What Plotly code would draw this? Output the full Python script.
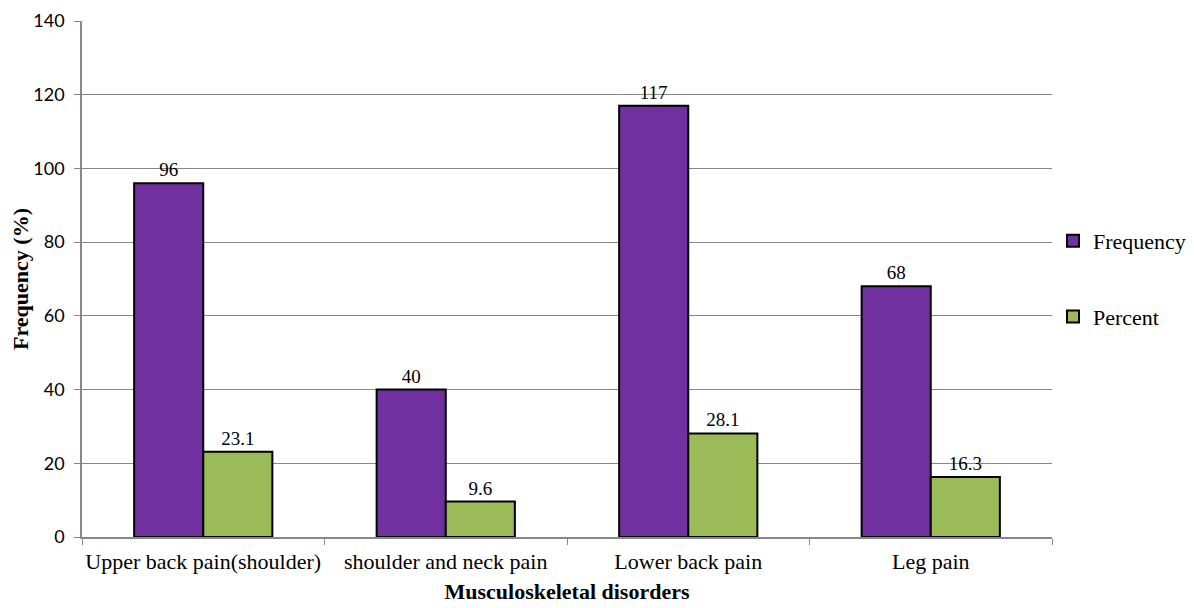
import plotly.graph_objects as go

categories = ["Upper back pain(shoulder)", "shoulder and neck pain", "Lower back pain", "Leg pain"]
frequency = [96, 40, 117, 68]
percent = [23.1, 9.6, 28.1, 16.3]
freq_labels = ["96", "40", "117", "68"]
pct_labels = ["23.1", "9.6", "28.1", "16.3"]

serif = "Liberation Serif, Times New Roman, serif"
sans = "Lato, Open Sans, sans-serif"

fig = go.Figure()
fig.add_trace(go.Bar(
    name="Frequency", x=categories, y=frequency, text=freq_labels,
    textposition="outside", cliponaxis=False, legendgroup="f",
    textfont=dict(family=serif, size=19, color="black"),
    marker=dict(color="#7030A0", line=dict(color="black", width=2)),
))
fig.add_trace(go.Bar(
    name="Percent", x=categories, y=percent, text=pct_labels,
    textposition="outside", cliponaxis=False, legendgroup="p",
    textfont=dict(family=serif, size=19, color="black"),
    marker=dict(color="#9BBB59", line=dict(color="black", width=2)),
))

fig.update_layout(
    width=1194, height=608,
    margin=dict(l=74, r=149, t=13, b=79),
    paper_bgcolor="white", plot_bgcolor="white",
    barmode="group", bargap=0.43, bargroupgap=0,
    showlegend=True,
    legend=dict(x=1.0, y=0.5, xanchor="left", yanchor="middle",
                font=dict(family=serif, size=22, color="black"),
                tracegroupgap=44, itemwidth=30),
    xaxis=dict(
        title=dict(text="<b>Musculoskeletal disorders</b>", font=dict(family=serif, size=22, color="black"), standoff=10),
        tickfont=dict(family=serif, size=22, color="black"), tickangle=0,
        ticklabelstandoff=4,
        showline=True, linecolor="#888888", linewidth=1.5,
        ticks="outside", ticklen=6, tickcolor="#888888", tickson="boundaries",
        showgrid=False, automargin=False,
    ),
    yaxis=dict(
        title=dict(text="<b>Frequency (%)</b>", font=dict(family=serif, size=22, color="black"), standoff=8),
        tickfont=dict(family=sans, size=18, color="black"),
        range=[0, 140], dtick=20,
        ticklabelstandoff=6, ticklabeloverflow="allow",
        showline=True, linecolor="#888888", linewidth=1.5,
        ticks="outside", ticklen=6, tickcolor="#888888",
        showgrid=True, gridcolor="#888888", gridwidth=1,
        zeroline=False, automargin=False,
    ),
)

fig.write_html("out.html")
